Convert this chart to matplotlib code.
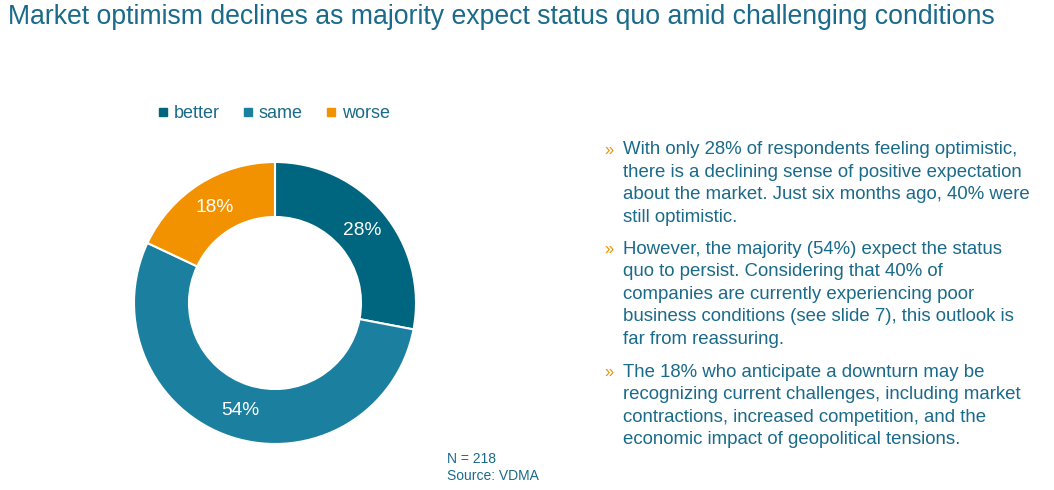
import matplotlib
matplotlib.use("Agg")
import matplotlib.pyplot as plt
from matplotlib.lines import Line2D
import numpy as np

plt.rcParams['font.family'] = ['Liberation Sans', 'DejaVu Sans']

W, H = 1054, 490

categories = ["better", "same", "worse"]
values = [28, 54, 18]
labels = ["28%", "54%", "18%"]
colors = ["#00657F", "#1B7FA0", "#F39200"]

title = "Market optimism declines as majority expect status quo amid challenging conditions"
bullets = [
    ["With only 28% of respondents feeling optimistic,",
     "there is a declining sense of positive expectation",
     "about the market. Just six months ago, 40% were",
     "still optimistic."],
    ["However, the majority (54%) expect the status",
     "quo to persist. Considering that 40% of",
     "companies are currently experiencing poor",
     "business conditions (see slide 7), this outlook is",
     "far from reassuring."],
    ["The 18% who anticipate a downturn may be",
     "recognizing current challenges, including market",
     "contractions, increased competition, and the",
     "economic impact of geopolitical tensions."],
]
note = ["N = 218", "Source: VDMA"]

TEXT = "#1A6A8A"
ORANGE = "#F39200"

fig = plt.figure(figsize=(W / 100, H / 100), dpi=100)

def fx(x):
    return x / W

def fy(y):
    return 1 - y / H

# Title
fig.text(fx(8), fy(17), title, fontsize=19.2, color=TEXT, va='center', ha='left')

# Donut
cx, cy, R = 275, 303, 141
lim = 1.03
half = R * lim
ax = fig.add_axes([fx(cx - half), (H - cy - half) / H, 2 * half / W, 2 * half / H])
ax.pie(values, colors=colors, startangle=90, counterclock=False,
       radius=1.0, wedgeprops=dict(width=0.39, edgecolor='white', linewidth=1.5))
theta = 90.0
for v, lab in zip(values, labels):
    ang = np.deg2rad(theta - v / 100 * 360 / 2)
    rr = 1 - 0.39 / 2
    ax.text(rr * np.cos(ang), rr * np.sin(ang), lab, ha='center', va='center',
            color='white', fontsize=13.8)
    theta -= v / 100 * 360
ax.set_xlim(-lim, lim)
ax.set_ylim(-lim, lim)
ax.set_aspect('equal')
ax.axis('off')

# Legend
handles = [Line2D([0], [0], marker='s', linestyle='none', markersize=6,
                  markerfacecolor=c, markeredgecolor=c) for c in colors]
leg = fig.legend(handles, categories, loc='center', bbox_to_anchor=(fx(272), fy(113.5)),
                 ncol=3, frameon=False, fontsize=13, handletextpad=0.1,
                 columnspacing=1.05, handlelength=1.0)
for t in leg.get_texts():
    t.set_color(TEXT)

# Bullets
starts = [150, 249.5, 372.5]
lh = 22.4
for y0, lines in zip(starts, bullets):
    fig.text(fx(604), fy(y0), "\u00bb", fontsize=12, color=ORANGE, va='center', ha='left')
    for i, ln in enumerate(lines):
        fig.text(fx(623), fy(y0 + i * lh), ln, fontsize=13.4, color=TEXT, va='center', ha='left')

# Note
for i, ln in enumerate(note):
    fig.text(fx(447), fy(459 + i * 17), ln, fontsize=10, color=TEXT, va='center', ha='left')

fig.savefig("out.png", dpi=100)
